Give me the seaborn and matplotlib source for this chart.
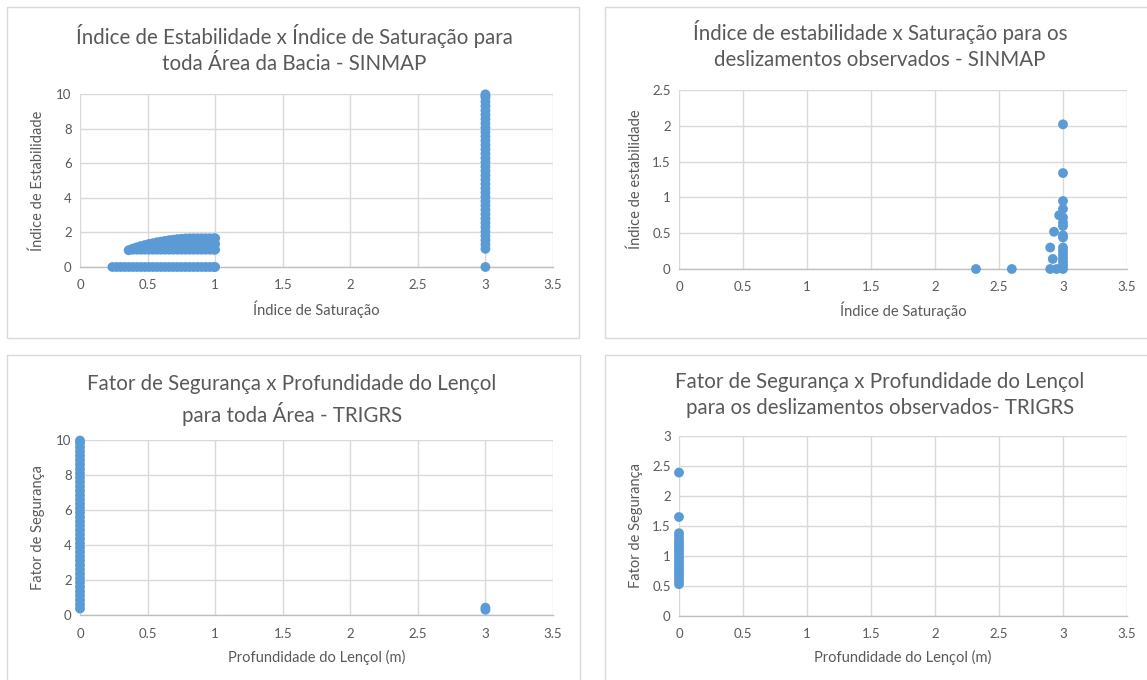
import matplotlib
matplotlib.use("Agg")
import matplotlib.pyplot as plt
import seaborn as sns
import pandas as pd
from matplotlib.patches import Rectangle

# ---------------- data ----------------
# Panel 1: SINMAP, whole basin (Índice de Saturação x Índice de Estabilidade)
band_sat = [0.24, 0.27, 0.30, 0.33, 0.36, 0.39, 0.42, 0.45, 0.48, 0.51, 0.54,
            0.57, 0.60, 0.63, 0.66, 0.69, 0.72, 0.75, 0.78, 0.81, 0.84,
            0.87, 0.90, 0.93, 0.96, 0.99, 1.00]
band_est = [0, 0, 0, 0, 0, 0, 0, 0, 0, 0, 0,
            0, 0, 0, 0, 0, 0, 0, 0, 0, 0,
            0, 0, 0, 0, 0, 0]
cloud_sat = [
    # lower row
    0.36, 0.39, 0.42, 0.45, 0.48, 0.51, 0.54, 0.57, 0.60, 0.63, 0.66,
    0.69, 0.72, 0.75, 0.78, 0.81, 0.84, 0.87, 0.90, 0.93, 0.96, 0.99, 1.00,
    # upper edge
    0.39, 0.42, 0.45, 0.48, 0.51, 0.54, 0.57, 0.60, 0.63, 0.66,
    0.69, 0.72, 0.75, 0.78, 0.81, 0.84, 0.87, 0.90, 0.93, 0.96, 0.99, 1.00,
    # middle row
    0.57, 0.60, 0.63, 0.66, 0.69, 0.72, 0.75, 0.78, 0.81, 0.84,
    0.87, 0.90, 0.93, 0.96, 0.99, 1.00,
]
cloud_est = [
    0.97, 1.0, 1.0, 1.0, 1.0, 1.0, 1.0, 1.0, 1.0, 1.0, 1.0,
    1.0, 1.0, 1.0, 1.0, 1.0, 1.0, 1.0, 1.0, 1.0, 1.0, 1.0, 1.0,
    1.06, 1.14, 1.21, 1.27, 1.33, 1.38, 1.43, 1.47, 1.51, 1.55,
    1.58, 1.61, 1.63, 1.65, 1.66, 1.66, 1.66, 1.66, 1.66, 1.66, 1.66, 1.66,
    1.22, 1.25, 1.27, 1.29, 1.31, 1.32, 1.33, 1.33, 1.33, 1.33,
    1.33, 1.33, 1.33, 1.33, 1.33, 1.33,
]
column_sat = [3.0] * 39
column_est = [0.0, 1.05, 1.3, 1.55, 1.8, 2.05, 2.3, 2.55, 2.8, 3.05, 3.3, 3.55, 3.8,
              4.05, 4.3, 4.55, 4.8, 5.05, 5.3, 5.55, 5.8, 6.05, 6.3, 6.55, 6.8,
              7.05, 7.3, 7.55, 7.8, 8.05, 8.3, 8.55, 8.8, 9.05, 9.3, 9.55, 9.8,
              9.9, 9.98]
sinmap_area_sat = band_sat + cloud_sat + column_sat
sinmap_area_est = band_est + cloud_est + column_est

# Panel 2: SINMAP, observed landslides
sinmap_obs_sat = [3.0, 3.0, 3.0, 3.0, 2.97, 3.0, 3.0, 3.0, 2.93, 3.0, 3.0,
                  2.9, 3.0, 3.0, 3.0, 2.92, 3.0, 3.0, 3.0, 3.0,
                  2.9, 2.95, 2.32, 2.6]
sinmap_obs_est = [2.02, 1.34, 0.95, 0.84, 0.75, 0.72, 0.65, 0.6, 0.52, 0.47, 0.44,
                  0.3, 0.3, 0.25, 0.2, 0.14, 0.15, 0.1, 0.05, 0.0,
                  0.0, 0.0, 0.0, 0.0]

# Panel 3: TRIGRS, whole area (Profundidade do Lençol x Fator de Segurança)
trigrs_area_prof = [0] * 40 + [3.0, 3.0]
trigrs_area_fs = [0.37, 0.6, 0.85, 1.1, 1.35, 1.6, 1.85, 2.1, 2.35, 2.6, 2.85, 3.1,
                  3.35, 3.6, 3.85, 4.1, 4.35, 4.6, 4.85, 5.1, 5.35, 5.6, 5.85, 6.1,
                  6.35, 6.6, 6.85, 7.1, 7.35, 7.6, 7.85, 8.1, 8.35, 8.6, 8.85, 9.1,
                  9.35, 9.6, 9.85, 9.97,
                  0.3, 0.42]

# Panel 4: TRIGRS, observed landslides
trigrs_obs_prof = [0, 0, 0, 0, 0, 0, 0, 0, 0, 0, 0, 0, 0, 0, 0, 0, 0, 0, 0, 0]
trigrs_obs_fs = [2.39, 1.65, 1.38, 1.33, 1.27, 1.22, 1.18, 1.13, 1.08, 1.03,
                 0.98, 0.93, 0.88, 0.83, 0.78, 0.73, 0.68, 0.63, 0.58, 0.53]

x_ticks = [0, 0.5, 1, 1.5, 2, 2.5, 3, 3.5]
x_tick_labels = ["0", "0.5", "1", "1.5", "2", "2.5", "3", "3.5"]

titles = [
    "Índice de Estabilidade x Índice de Saturação para\ntoda Área da Bacia - SINMAP",
    "Índice de estabilidade x Saturação para os\ndeslizamentos observados - SINMAP",
    "Fator de Segurança x Profundidade do Lençol\npara toda Área - TRIGRS",
    "Fator de Segurança x Profundidade do Lençol\npara os deslizamentos observados- TRIGRS",
]
xlabels = ["Índice de Saturação", "Índice de Saturação",
           "Profundidade do Lençol (m)", "Profundidade do Lençol (m)"]
ylabels = ["Índice de Estabilidade", "Índice de estabilidade",
           "Fator de Segurança", "Fator de Segurança"]
y_ticks = [
    [0, 2, 4, 6, 8, 10],
    [0, 0.5, 1, 1.5, 2, 2.5],
    [0, 2, 4, 6, 8, 10],
    [0, 0.5, 1, 1.5, 2, 2.5, 3],
]
y_tick_labels = [
    ["0", "2", "4", "6", "8", "10"],
    ["0", "0.5", "1", "1.5", "2", "2.5"],
    ["0", "2", "4", "6", "8", "10"],
    ["0", "0.5", "1", "1.5", "2", "2.5", "3"],
]

# ---------------- style ----------------
sns.set_theme(style="whitegrid")
plt.rcParams["font.family"] = ["Lato", "DejaVu Sans"]

W, H = 1147, 680
TEXT = "#595959"
BLUE = "#5B9BD5"
GRID = "#D9D9D9"

fig = plt.figure(figsize=(W / 100, H / 100), dpi=100)
fig.patch.set_facecolor("white")


def fx(px):
    return px / W


def fy(py):
    return 1 - py / H


# panel frames (x0, y0, x1, y1) in pixels
frames = [(7, 7, 579, 338), (605, 7, 1160, 338), (7, 355, 580, 700), (605, 355, 1160, 700)]
for (x0, y0, x1, y1) in frames:
    fig.patches.append(Rectangle((fx(x0), fy(y1)), fx(x1 - x0), (y1 - y0) / H,
                                 transform=fig.transFigure, fill=False,
                                 edgecolor="#D9D9D9", linewidth=1.0, zorder=0))

# plot areas (left, top, right, bottom) in pixels
areas = [(80, 94, 553, 267), (679, 90, 1127, 269), (80, 440, 553, 615), (679, 436, 1127, 616)]
title_pos = [(294, 49), (880, 45), (292, 400), (880, 395)]
xlabel_y = [309, 310, 657, 657]
ylabel_x = [38, 636, 38, 636]
ylims = [(0, 10), (0, 2.5), (0, 10), (0, 3)]

datasets = [
    (sinmap_area_sat, sinmap_area_est),
    (sinmap_obs_sat, sinmap_obs_est),
    (trigrs_area_prof, trigrs_area_fs),
    (trigrs_obs_prof, trigrs_obs_fs),
]

for i, ((l, t, r, b), (xs, ys)) in enumerate(zip(areas, datasets)):
    ax = fig.add_axes([fx(l), fy(b), fx(r - l), (b - t) / H])
    df = pd.DataFrame({"x": xs, "y": ys})
    sns.scatterplot(data=df, x="x", y="y", ax=ax, color=BLUE, s=50,
                    linewidth=0, edgecolor="none", zorder=3, clip_on=False)
    ax.set_xlim(0, 3.5)
    ax.set_ylim(*ylims[i])
    ax.set_xticks(x_ticks)
    ax.set_xticklabels(x_tick_labels)
    ax.set_yticks(y_ticks[i])
    ax.set_yticklabels(y_tick_labels[i])
    ax.set_facecolor("white")
    ax.grid(True, color=GRID, linewidth=1.0)
    ax.set_axisbelow(True)
    for side in ["top", "right", "left"]:
        ax.spines[side].set_visible(False)
    ax.spines["bottom"].set_visible(True)
    ax.spines["bottom"].set_color("#BFBFBF")
    ax.spines["bottom"].set_linewidth(1.0)
    ax.tick_params(axis="both", length=0, labelsize=9.5, colors=TEXT)
    ax.tick_params(axis="x", pad=9)
    ax.tick_params(axis="y", pad=6)
    ax.set_xlabel(xlabels[i], fontsize=10.5, color=TEXT)
    ax.set_ylabel(ylabels[i], fontsize=10.5, color=TEXT)
    ax.xaxis.set_label_coords(0.5, (b - xlabel_y[i]) / (b - t))
    ax.yaxis.set_label_coords((ylabel_x[i] - l) / (r - l), 0.5)
    ax.xaxis.label.set_va("center")
    ax.yaxis.label.set_va("center")

    tx, ty = title_pos[i]
    fig.text(fx(tx), fy(ty), titles[i], ha="center", va="center",
             fontsize=14.8, color=TEXT, linespacing=1.4)

fig.savefig("out.png", dpi=100, facecolor="white")
